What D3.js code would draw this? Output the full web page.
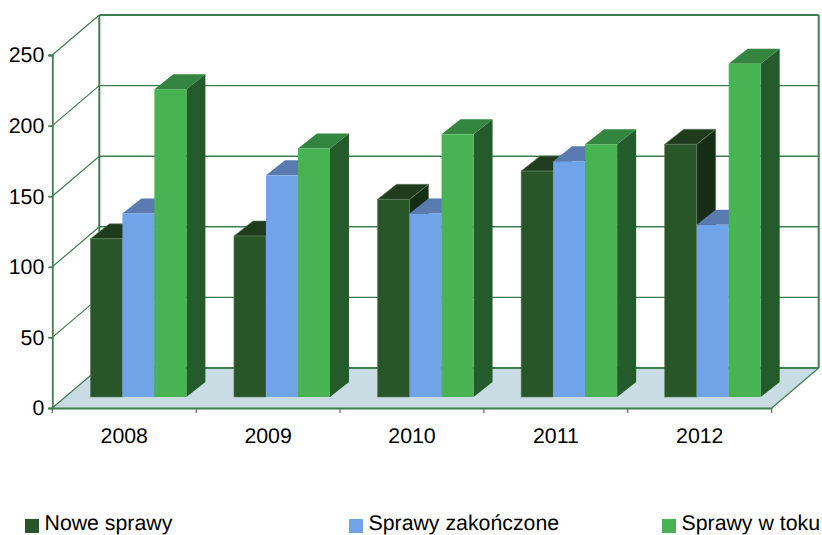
<!DOCTYPE html>
<html>
<head>
<meta charset="utf-8">
<script src="https://cdn.jsdelivr.net/npm/d3@7"></script>
<style>
html, body { margin: 0; padding: 0; background: #fff; }
svg { display: block; }
text { font-family: "Liberation Sans", Arial, sans-serif; font-size: 21.3px; fill: #000; text-rendering: geometricPrecision; }
</style>
</head>
<body>
<svg id="chart" width="822" height="535"></svg>
<script>
// datos
var years = ["2008", "2009", "2010", "2011", "2012"];
var seriesNames = ["Nowe sprawy", "Sprawy zakończone", "Sprawy w toku"];
var nowe = [112, 114, 140, 160, 179];
var zakonczone = [130, 157, 130, 167, 122];
var wToku = [218, 176, 186, 179, 236];
var yTicks = [0, 50, 100, 150, 200, 250];

var seriesValues = [nowe, zakonczone, wToku];
var frontColors = ["#285628", "#71a3e8", "#47b353"];
var topColors = ["#1f3c1c", "#597bb0", "#33853f"];
var sideColors = ["#152d14", "#4a6e9f", "#235b2a"];
var edgeColors = ["#5f7f5f", "none", "none"];
var gridColor = "#3f7d4e";

var svg = d3.select("#chart");

var x = d3.scaleBand().domain(years).range([52.3, 771.7]);
var xBars = d3.scaleBand().domain(years).range([53.6, 771.5]);
var y = d3.scaleLinear().domain([0, 250]).range([408, 55]);
var barWidth = 32;
var xSeries = d3.scaleBand().domain(d3.range(3)).range([0, barWidth * 3]);

// profundidad del suelo y de las barras
var depth = { x: 47, y: -40 };
var barShift = { x: 13, y: -11 };
var barDepth = { x: 19, y: -15 };

function poly(points) {
	return points.map(function (p) { return p.join(","); }).join(" ");
}

// suelo
var x0 = x.range()[0], x1 = x.range()[1];
svg.append("polygon")
	.attr("points", poly([[x0, y(0)], [x1, y(0)], [x1 + depth.x, y(0) + depth.y], [x0 + depth.x, y(0) + depth.y]]))
	.attr("fill", "#c9dbe3");

// lineas de la pared del fondo y de la izquierda
var grid = svg.append("g").attr("fill", "none").attr("stroke", gridColor);
yTicks.forEach(function (t) {
	var w = (t === 0 || t === 250) ? 2 : 1.4;
	grid.append("line")
		.attr("x1", x0 + depth.x).attr("x2", x1 + depth.x)
		.attr("y1", y(t) + depth.y).attr("y2", y(t) + depth.y)
		.attr("stroke-width", w);
	grid.append("line")
		.attr("x1", x0).attr("x2", x0 + depth.x)
		.attr("y1", y(t)).attr("y2", y(t) + depth.y)
		.attr("stroke-width", 1.2);
});
grid.append("line")
	.attr("x1", x0 + depth.x).attr("x2", x0 + depth.x)
	.attr("y1", y(0) + depth.y).attr("y2", y(250) + depth.y)
	.attr("stroke-width", 2);
grid.append("line")
	.attr("x1", x1 + depth.x).attr("x2", x1 + depth.x)
	.attr("y1", y(0) + depth.y).attr("y2", y(250) + depth.y)
	.attr("stroke-width", 2);
grid.append("line")
	.attr("x1", x1).attr("x2", x1 + depth.x)
	.attr("y1", y(0)).attr("y2", y(0) + depth.y)
	.attr("stroke-width", 1.2);

// barras: cada grupo de atras hacia adelante segun la serie
var bars = svg.append("g");
years.forEach(function (year, i) {
	var groupLeft = xBars(year) + (xBars.bandwidth() - barWidth * 3) / 2 + barShift.x;
	seriesValues.forEach(function (values, s) {
		var left = groupLeft + xSeries(s);
		var right = left + barWidth;
		var top = y(values[i]) + barShift.y;
		var base = y(0) + barShift.y;
		var dx = barDepth.x, dy = barDepth.y;

		bars.append("polygon")
			.attr("points", poly([[right, top], [right + dx, top + dy], [right + dx, base + dy], [right, base]]))
			.attr("fill", sideColors[s])
			.attr("stroke", edgeColors[s]).attr("stroke-width", 0.6);
		bars.append("polygon")
			.attr("points", poly([[left, top], [left + dx, top + dy], [right + dx, top + dy], [right, top]]))
			.attr("fill", topColors[s])
			.attr("stroke", edgeColors[s]).attr("stroke-width", 0.6);
		bars.append("rect")
			.attr("x", left).attr("y", top)
			.attr("width", barWidth).attr("height", base - top)
			.attr("fill", frontColors[s])
			.attr("stroke", edgeColors[s]).attr("stroke-width", 0.6);
	});
});

// ejes
var yAxis = svg.append("g")
	.attr("transform", "translate(" + x0 + ",0)")
	.call(d3.axisLeft(y).tickValues(yTicks).tickSize(4).tickPadding(4).tickFormat(d3.format("d")));
var xAxis = svg.append("g")
	.attr("transform", "translate(0," + y(0) + ")")
	.call(d3.axisBottom(x).tickSize(0).tickPadding(20));
[yAxis, xAxis].forEach(function (a) {
	a.attr("font-size", null).attr("font-family", null);
	a.selectAll("path,line").attr("stroke", gridColor).attr("stroke-width", 1.8);
});

// marcas de separacion entre categorias
svg.append("g").selectAll("line")
	.data(years.concat(["end"]))
	.join("line")
	.attr("x1", function (d) { return d === "end" ? x1 : x(d); })
	.attr("x2", function (d) { return d === "end" ? x1 : x(d); })
	.attr("y1", y(0)).attr("y2", y(0) + 5)
	.attr("stroke", gridColor).attr("stroke-width", 1.2);

// leyenda
var legendX = [25, 349, 662];
var legend = svg.append("g").selectAll("g")
	.data(seriesNames)
	.join("g")
	.attr("transform", function (d, i) { return "translate(" + legendX[i] + ",519)"; });
legend.append("rect")
	.attr("width", 14).attr("height", 14)
	.attr("fill", function (d, i) { return frontColors[i]; });
legend.append("text")
	.attr("x", 19.5).attr("y", 11.2)
	.text(function (d) { return d; });
</script>
</body>
</html>
